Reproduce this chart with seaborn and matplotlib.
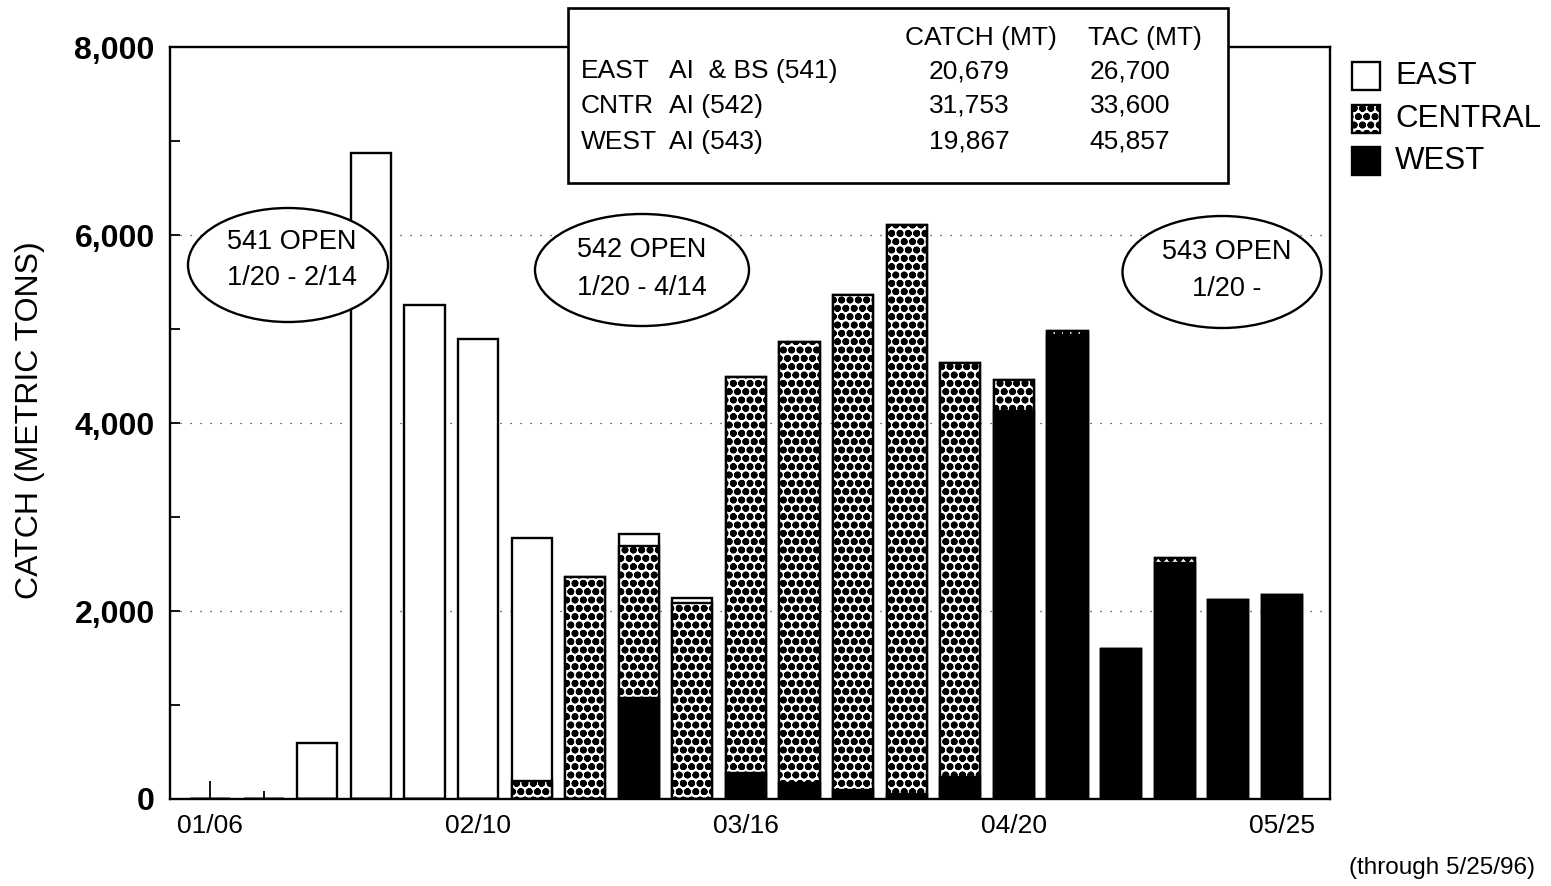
import numpy as np
import pandas as pd
import matplotlib
matplotlib.use("Agg")
import matplotlib.pyplot as plt
import seaborn as sns
from matplotlib.patches import Rectangle, Ellipse

# ---------------- data ----------------
weeks = ['01/06', '01/13', '01/20', '01/27', '02/03', '02/10', '02/17', '02/24',
         '03/02', '03/09', '03/16', '03/23', '03/30', '04/06', '04/13', '04/20',
         '04/27', '05/04', '05/11', '05/18', '05/25']
east = [0, 0, 600, 6870, 5255, 4894, 2590, 0, 130, 55, 0, 0, 0, 0, 0, 0,
        0, 0, 0, 0, 0]
central = [0, 0, 0, 0, 0, 0, 190, 2362, 1615, 2085, 4210, 4690, 5260, 6056,
           4400, 330, 45, 0, 50, 0, 0]
west = [0, 0, 0, 0, 0, 0, 0, 0, 1075, 0, 280, 170, 100, 50, 234, 4128, 4936,
        1596, 2511, 2117, 2170]
tick_weeks = ['01/06', '02/10', '03/16', '04/20', '05/25']
yticks = [0, 2000, 4000, 6000, 8000]
grid_levels = [2000, 4000, 6000]
series_names = ['EAST', 'CENTRAL', 'WEST']
table_header = ['CATCH (MT)', 'TAC (MT)']
table_area = ['EAST', 'CNTR', 'WEST']
table_desc = ['AI  & BS (541)', 'AI (542)', 'AI (543)']
table_catch = ['20,679', '31,753', '19,867']
table_tac = ['26,700', '33,600', '45,857']
open_titles = ['541 OPEN', '542 OPEN', '543 OPEN']
open_dates = ['1/20 - 2/14', '1/20 - 4/14', '1/20 -']

# ---------------- style ----------------
HATCH = 'oo'
HATCH_LW = 2.5
sns.set_style("ticks")
plt.rcParams['font.family'] = ['Liberation Sans', 'DejaVu Sans']
plt.rcParams['hatch.linewidth'] = HATCH_LW
plt.rcParams['hatch.color'] = 'black'
for k in ['text.color', 'axes.labelcolor', 'xtick.color', 'ytick.color', 'axes.edgecolor']:
    plt.rcParams[k] = 'black'

W, H = 1551, 886
fig = plt.figure(figsize=(W / 100, H / 100), dpi=100)
fig.patch.set_facecolor('white')

def fx(px):
    return px / W

def fy(py):
    return 1 - py / H

ax = fig.add_axes([fx(170), fy(799), fx(1330) - fx(170), fy(47) - fy(799)])
ax.set_facecolor('white')

df = pd.DataFrame({'week': weeks, 'east': east, 'central': central, 'west': west})
df['cw'] = df['central'] + df['west']
df['total'] = df['cw'] + df['east']

common = dict(data=df, x='week', order=weeks, width=0.75, saturation=1,
              errorbar=None, ax=ax, edgecolor='black', linewidth=1.7)
sns.barplot(y='total', color='white', **common)
n_before = len(ax.patches)
sns.barplot(y='cw', color='white', hatch=HATCH, **common)
for p in ax.patches[n_before:]:
    if hasattr(p, 'set_hatch_linewidth'):
        p.set_hatch_linewidth(HATCH_LW)
sns.barplot(y='west', color='black', **common)

for g in grid_levels:
    ax.axhline(g, color='#333333', linewidth=0.9, linestyle=(0, (1, 7)), zorder=0.5)

ax.set_xlim(-0.75, 20.9)
ax.set_ylim(0, 8000)
ax.set_xlabel('')
ax.set_ylabel('')

ax.set_xticks([weeks.index(w) for w in tick_weeks])
ax.set_xticklabels(tick_weeks, fontsize=19)
ax.set_xticks(range(len(weeks)), minor=True)
ax.tick_params(axis='x', which='major', direction='in', length=13, width=1.3, pad=11)
ax.tick_params(axis='x', which='minor', direction='in', length=6, width=1.3)

ax.set_yticks(yticks)
ax.set_yticklabels([f"{v:,}" for v in yticks], fontsize=23, fontweight='bold')
ax.set_yticks(range(1000, 8000, 2000), minor=True)
ax.tick_params(axis='y', which='both', direction='in', length=7, width=1.3, pad=11)

for s in ax.spines.values():
    s.set_visible(True)
    s.set_linewidth(1.7)
    s.set_color('black')

fig.text(fx(30), fy(420), 'CATCH (METRIC TONS)', rotation=90, ha='center',
         va='center', fontsize=23)

ell = [(288, 265, 200, 114, 292, 242, 278),
       (642, 270, 214, 112, 642, 250, 288),
       (1222, 272, 199, 112, 1227, 252, 289)]
for i, (cx, cy, ew, eh, tx, t1, t2) in enumerate(ell):
    e = Ellipse((fx(cx), fy(cy)), ew / W, eh / H, transform=fig.transFigure,
                facecolor='white', edgecolor='black', linewidth=1.7, zorder=4)
    fig.add_artist(e)
    fig.text(fx(tx), fy(t1), open_titles[i], ha='center', va='center',
             fontsize=19.5, zorder=5)
    fig.text(fx(tx), fy(t2), open_dates[i], ha='center', va='center',
             fontsize=19.5, zorder=5)

box = Rectangle((fx(568), fy(183)), (1228 - 568) / W, (183 - 8) / H,
                transform=fig.transFigure, facecolor='white', edgecolor='black',
                linewidth=1.9, zorder=4)
fig.add_artist(box)
fig.text(fx(981), fy(38), table_header[0], ha='center', va='center', fontsize=19, zorder=5)
fig.text(fx(1145), fy(38), table_header[1], ha='center', va='center', fontsize=19, zorder=5)
row_y = [71, 106, 142]
for i in range(3):
    fig.text(fx(581), fy(row_y[i]), table_area[i], ha='left', va='center', fontsize=19, zorder=5)
    fig.text(fx(669), fy(row_y[i]), table_desc[i], ha='left', va='center', fontsize=19, zorder=5)
    fig.text(fx(969), fy(row_y[i]), table_catch[i], ha='center', va='center', fontsize=19, zorder=5)
    fig.text(fx(1130), fy(row_y[i]), table_tac[i], ha='center', va='center', fontsize=19, zorder=5)

leg_y = [76, 119, 161]
leg_style = [dict(facecolor='white', hatch=None),
             dict(facecolor='white', hatch=HATCH),
             dict(facecolor='black', hatch=None)]
for i, name in enumerate(series_names):
    r = Rectangle((fx(1352), fy(leg_y[i] + 14)), 28 / W, 28 / H,
                  transform=fig.transFigure, edgecolor='black', linewidth=1.7,
                  zorder=4, **leg_style[i])
    if leg_style[i]['hatch'] and hasattr(r, 'set_hatch_linewidth'):
        r.set_hatch_linewidth(HATCH_LW)
    fig.add_artist(r)
    fig.text(fx(1395), fy(leg_y[i]), name, ha='left', va='center', fontsize=22.5)

fig.text(fx(1535), fy(868), '(through 5/25/96)', ha='right', va='center', fontsize=17.5)

fig.savefig('out.png', dpi=100, facecolor='white')
